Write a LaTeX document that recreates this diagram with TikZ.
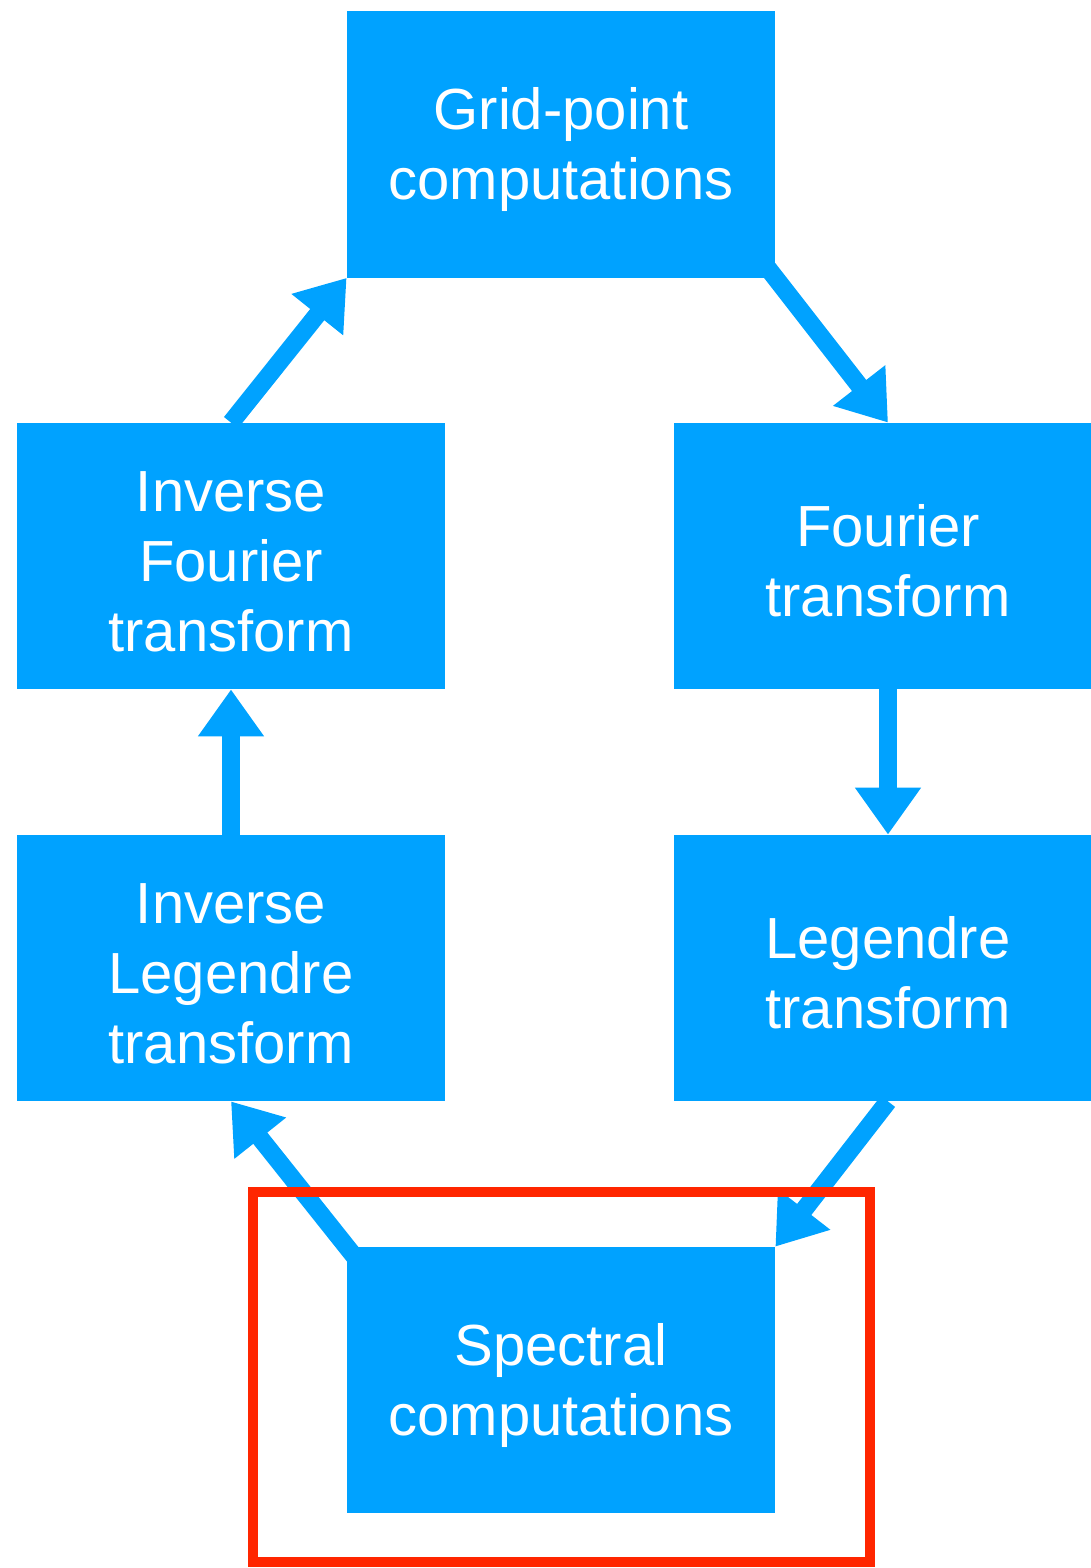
\documentclass[tikz,border=0pt]{standalone}
\usepackage{fontspec}
\setmainfont{Liberation Sans}
\usetikzlibrary{arrows.meta}
\definecolor{boxblue}{HTML}{00A2FF}
\definecolor{framered}{HTML}{FF2600}
\newcommand{\topstrut}{\rule{0pt}{26pt}}
\tikzset{
  stagebox/.style={fill=boxblue, text=white, inner sep=0pt, minimum width=214pt, minimum height=133pt,
    align=center, font=\fontsize{29pt}{35pt}\selectfont},
  flow/.style={draw=boxblue, line width=9pt, -{Triangle[length=23.5pt,width=31.5pt]}},
}
\begin{document}
\begin{tikzpicture}[x=0.5pt,y=-0.5pt]
\useasboundingbox (0,0) rectangle (1091,1568);
\node[stagebox] (grid) at (561,144.5) {\topstrut Grid-point\\computations};
\node[stagebox] (ifour) at (231,556) {\topstrut Inverse\\Fourier\\transform};
\node[stagebox] (four) at (888,556) {\topstrut Fourier\\transform};
\node[stagebox] (ileg) at (231,968) {\topstrut Inverse\\Legendre\\transform};
\node[stagebox] (leg) at (888,968) {\topstrut Legendre\\transform};
\node[stagebox] (spec) at (561,1380) {\topstrut Spectral\\computations};
\draw[flow] (ifour.north) -- (grid.south west);
\draw[flow, shorten <=-6pt] (grid.south east) -- (four.north);
\draw[flow] (four.south) -- (leg.north);
\draw[flow] (leg.south) -- (spec.north east);
\draw[flow, shorten <=-6pt] (spec.north west) -- (ileg.south);
\draw[flow] (ileg.north) -- (ifour.south);
\draw[framered, line width=5pt] (253,1192) rectangle (870,1562);
\end{tikzpicture}
\end{document}
